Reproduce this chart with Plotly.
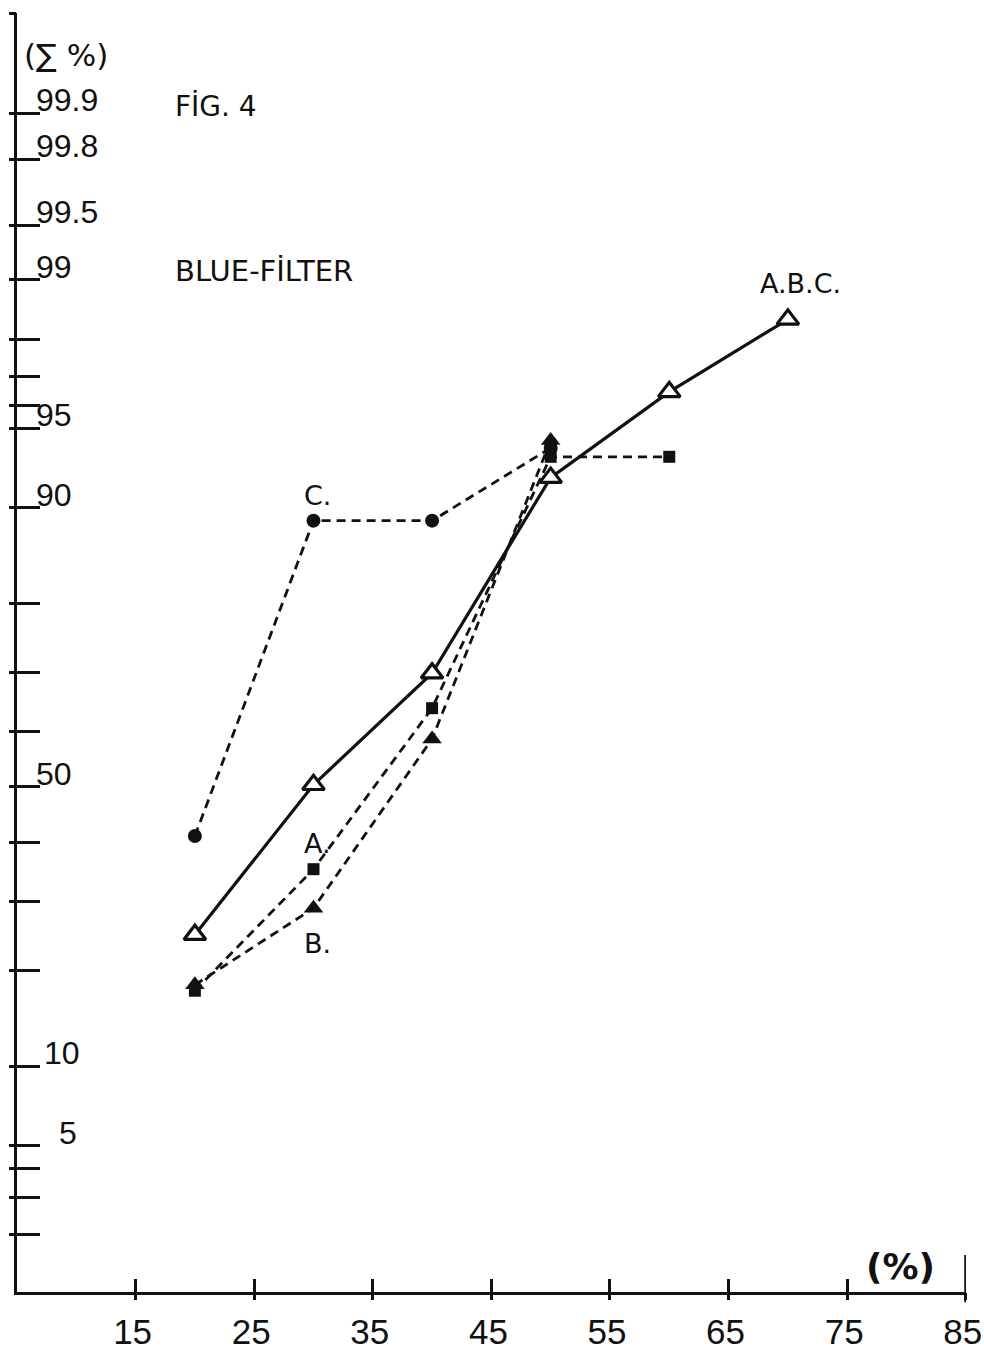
import plotly.graph_objects as go
from statistics import NormalDist

# ---------------- data (cumulative %) ----------------
x_abc = [20, 30, 40, 50, 60, 70]
p_abc = [24.9, 50.4, 69.9, 92.2, 96.5, 98.4]

x_a = [20, 30, 40, 50, 60]
p_a = [17.5, 35.3, 64.1, 93.5, 93.5]

x_b = [20, 30, 40, 50]
p_b = [18.2, 28.9, 58.7, 94.4]

x_c = [20, 30, 40, 50]
p_c = [41.1, 88.9, 88.9, 94.0]

x_tick_vals = [15, 25, 35, 45, 55, 65, 75, 85]
y_tick_vals = [99.9, 99.8, 99.5, 99, 98, 97, 96, 95, 90, 80, 70, 60, 50,
               40, 30, 20, 10, 5, 4, 3, 2]
y_label_vals = [99.9, 99.8, 99.5, 99, 95, 90, 50, 10, 5]
y_label_text = ["99.9", "99.8", "99.5", "99", "95", "90", "50", "10", "5"]

X_RANGE = [5, 85.02]
Y_RANGE_PCT = [1.027, 99.9807]

# ---------------- probability (probit) scale ----------------
nd = NormalDist()


def probit(p):
    return nd.inv_cdf(p / 100.0)


def zs(values):
    return [probit(v) for v in values]


y_range = zs(Y_RANGE_PCT)
y_ticks_z = zs(y_tick_vals) + [y_range[1] - 1e-3]

INK = "#111111"
NARROW = "Liberation Sans Narrow, Liberation Sans, Arial, sans-serif"
TEXTF = "DejaVu Sans, Liberation Sans, sans-serif"
DASH = "9px,6px"

fig = go.Figure()

# dashed series
fig.add_trace(go.Scatter(
    x=x_c, y=zs(p_c), mode="lines+markers",
    line=dict(color=INK, width=2.8, dash=DASH),
    marker=dict(symbol="circle", size=14, color=INK),
    showlegend=False, hoverinfo="skip"))
fig.add_trace(go.Scatter(
    x=x_a, y=zs(p_a), mode="lines+markers",
    line=dict(color=INK, width=2.8, dash=DASH),
    marker=dict(symbol="square", size=12, color=INK),
    showlegend=False, hoverinfo="skip"))
fig.add_trace(go.Scatter(
    x=x_b, y=zs(p_b), mode="lines+markers",
    line=dict(color=INK, width=2.8, dash=DASH),
    marker=dict(symbol="triangle-up", size=17, color=INK),
    showlegend=False, hoverinfo="skip"))
# solid A.B.C. series
fig.add_trace(go.Scatter(
    x=x_abc, y=zs(p_abc), mode="lines+markers",
    line=dict(color=INK, width=3.2),
    marker=dict(symbol="triangle-up", size=19, color="white",
                line=dict(color=INK, width=3.2)),
    showlegend=False, hoverinfo="skip"))

# invisible trace to create the overlay axes (tick stubs crossing the axes)
fig.add_trace(go.Scatter(x=[], y=[], xaxis="x2", yaxis="y2",
                         showlegend=False, hoverinfo="skip"))

fig.update_layout(
    width=984, height=1357,
    margin=dict(l=17, r=18, t=13, b=65),
    paper_bgcolor="white", plot_bgcolor="white",
    showlegend=False,
    xaxis=dict(range=X_RANGE, tickvals=x_tick_vals,
               ticktext=[str(v) for v in x_tick_vals],
               ticks="inside", ticklen=13, tickwidth=3, tickcolor=INK,
               showline=True, linewidth=3, linecolor=INK,
               showgrid=False, zeroline=False, automargin=False,
               ticklabeloverflow="allow", ticklabelshift=-3,
               tickfont=dict(family=NARROW, size=35, color=INK),
               ticklabelstandoff=7),
    yaxis=dict(range=y_range, tickvals=y_ticks_z,
               ticks="inside", ticklen=23, tickwidth=3, tickcolor=INK,
               showline=True, linewidth=3, linecolor=INK,
               showticklabels=False, automargin=False,
               showgrid=False, zeroline=False),
    xaxis2=dict(range=X_RANGE, overlaying="x", anchor="y2", side="bottom",
                tickvals=x_tick_vals, ticks="outside", ticklen=7,
                tickwidth=3, tickcolor=INK, showticklabels=False,
                automargin=False,
                showline=False, showgrid=False, zeroline=False),
    yaxis2=dict(range=y_range, overlaying="y", anchor="x2", side="left",
                tickvals=y_ticks_z, ticks="outside", ticklen=7,
                tickwidth=3, tickcolor=INK, showticklabels=False,
                automargin=False,
                showline=False, showgrid=False, zeroline=False),
)

# y tick labels (sitting on the tick lines, to the right of the axis)
label_shift = {"10": 25, "5": 40}
for v, t in zip(y_label_vals, y_label_text):
    fig.add_annotation(x=X_RANGE[0], y=probit(v), xref="x", yref="y",
                       text=t, showarrow=False, xanchor="left",
                       yanchor="bottom", xshift=label_shift.get(t, 17),
                       yshift=-7,
                       font=dict(family=NARROW, size=32, color=INK))

# end mark of the x axis
fig.add_shape(type="line", xref="x", yref="paper", x0=85, x1=85,
              y0=-0.008, y1=0.029, line=dict(color=INK, width=3))


def px(xp, yp):
    return (xp - 17) / 949.0, (1292 - yp) / 1279.0


texts = [
    ("(∑ %)", 22, 55, TEXTF, 31, False),
    ("FİG. 4", 173, 107, TEXTF, 28, False),
    ("BLUE-FİLTER", 173, 271, TEXTF, 29, False),
    ("A.B.C.", 758, 283, TEXTF, 27, False),
    ("C.", 302, 495, TEXTF, 27, False),
    ("A.", 302, 843, TEXTF, 27, False),
    ("B.", 302, 943, TEXTF, 27, False),
    ("(%)", 864, 1266, TEXTF, 36, True),
]
for t, xx, yy, fam, sz, bold in texts:
    xp, yp = px(xx, yy)
    fig.add_annotation(x=xp, y=yp, xref="paper", yref="paper",
                       text=f"<b>{t}</b>" if bold else t,
                       showarrow=False, xanchor="left", yanchor="middle",
                       font=dict(family=fam, size=sz, color=INK))

fig.write_html("out.html")
